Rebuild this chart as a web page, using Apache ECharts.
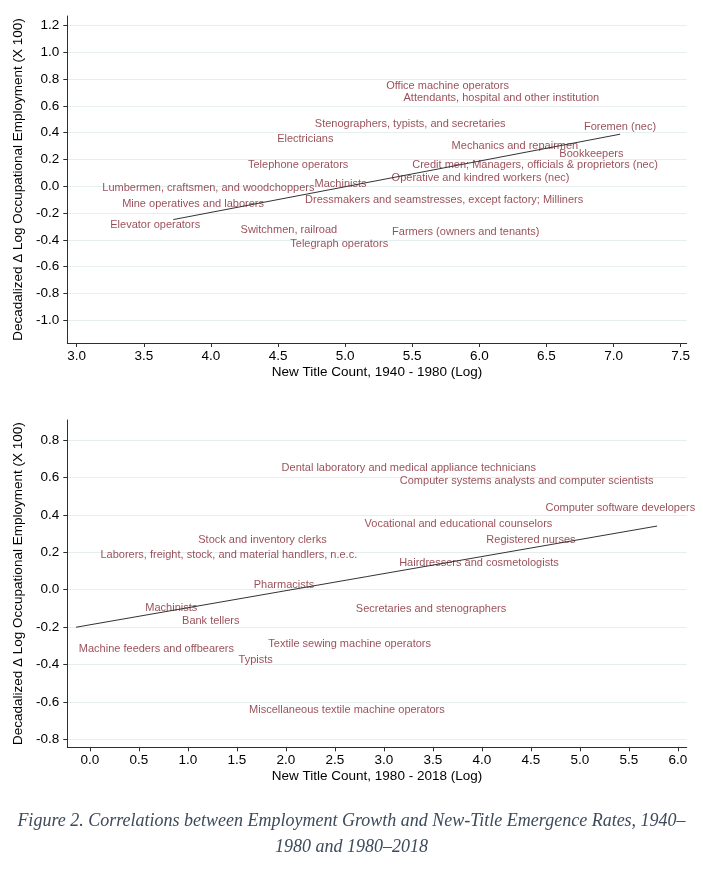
<!DOCTYPE html>
<html>
<head>
<meta charset="utf-8">
<script src="https://cdn.jsdelivr.net/npm/echarts@6/dist/echarts.min.js"></script>
<style>
html,body{margin:0;padding:0;background:#fff;}
#chart{width:703px;height:871px;}
</style>
</head>
<body>
<div id="chart"></div>
<script>
// ---- Panel 1: 1940-1980 ----
var topNames = [
  "Office machine operators",
  "Attendants, hospital and other institution",
  "Stenographers, typists, and secretaries",
  "Foremen (nec)",
  "Electricians",
  "Mechanics and repairmen",
  "Bookkeepers",
  "Telephone operators",
  "Credit men; Managers, officials & proprietors (nec)",
  "Operative and kindred workers (nec)",
  "Machinists",
  "Lumbermen, craftsmen, and woodchoppers",
  "Dressmakers and seamstresses, except factory; Milliners",
  "Mine operatives and laborers",
  "Elevator operators",
  "Switchmen, railroad",
  "Farmers (owners and tenants)",
  "Telegraph operators"
];
var topX = [5.763, 6.164, 5.485, 7.048, 4.703, 6.265, 6.835, 4.650, 6.415, 6.009, 4.966, 3.981, 5.738, 3.867, 3.585, 4.581, 5.899, 4.956];
var topY = [0.746, 0.657, 0.468, 0.443, 0.351, 0.299, 0.241, 0.162, 0.162, 0.060, 0.020, -0.010, -0.104, -0.134, -0.293, -0.323, -0.341, -0.433];
var topFitX = [3.72, 7.049];
var topFitY = [-0.249, 0.388];
var topXTicks = [3.0, 3.5, 4.0, 4.5, 5.0, 5.5, 6.0, 6.5, 7.0, 7.5];
var topYTicks = [-1.0, -0.8, -0.6, -0.4, -0.2, 0.0, 0.2, 0.4, 0.6, 0.8, 1.0, 1.2];

// ---- Panel 2: 1980-2018 ----
var botNames = [
  "Dental laboratory and medical appliance technicians",
  "Computer systems analysts and computer scientists",
  "Computer software developers",
  "Vocational and educational counselors",
  "Registered nurses",
  "Stock and inventory clerks",
  "Laborers, freight, stock, and material handlers, n.e.c.",
  "Hairdressers and cosmetologists",
  "Pharmacists",
  "Machinists",
  "Secretaries and stenographers",
  "Bank tellers",
  "Textile sewing machine operators",
  "Machine feeders and offbearers",
  "Typists",
  "Miscellaneous textile machine operators"
];
var botX = [3.254, 4.457, 5.413, 3.761, 4.501, 1.761, 1.418, 3.970, 1.981, 0.831, 3.481, 1.234, 2.651, 0.679, 1.692, 2.623];
var botY = [0.649, 0.579, 0.435, 0.351, 0.265, 0.264, 0.184, 0.141, 0.023, -0.098, -0.103, -0.168, -0.291, -0.319, -0.376, -0.643];
var botFitX = [-0.141, 5.788];
var botFitY = [-0.201, 0.340];
var botXTicks = [0.0, 0.5, 1.0, 1.5, 2.0, 2.5, 3.0, 3.5, 4.0, 4.5, 5.0, 5.5, 6.0];
var botYTicks = [-0.8, -0.6, -0.4, -0.2, 0.0, 0.2, 0.4, 0.6, 0.8];

var xTitles = ["New Title Count, 1940 - 1980 (Log)", "New Title Count, 1980 - 2018 (Log)"];
var yTitle = "Decadalized \u0394 Log Occupational Employment (X 100)";
var captionLines = [
  "Figure 2. Correlations between Employment Growth and New-Title Emergence Rates, 1940\u2013",
  "1980 and 1980\u20132018"
];

var FONT = "'Liberation Sans', Arial, Helvetica, sans-serif";
var LABEL_COLOR = "#7d1f2b";
var AXIS_COLOR = "#2e2e2e";
var GRID_COLOR = "#e6eef0";

function zipPts(names, xs, ys) {
  return names.map(function (n, i) { return { name: n, value: [xs[i], ys[i]] }; });
}
function fitPts(xs, ys) {
  return xs.map(function (x, i) { return [x, ys[i]]; });
}
function fmt(v) { return (Math.round(v * 10) / 10).toFixed(1); }

function xAxisCfg(gridIndex, min, max, ticks, title) {
  return {
    type: 'value', gridIndex: gridIndex, min: min, max: max,
    name: title, nameLocation: 'middle', nameGap: 22,
    nameTextStyle: { fontFamily: FONT, fontSize: 13.5, color: '#000' },
    axisLine: { show: true, onZero: false, lineStyle: { color: AXIS_COLOR, width: 1 } },
    axisTick: { show: true, inside: false, length: 4, customValues: ticks, lineStyle: { color: AXIS_COLOR } },
    axisLabel: { show: true, customValues: ticks, margin: 6, formatter: fmt, fontFamily: FONT, fontSize: 13.5, color: '#000' },
    splitLine: { show: false }
  };
}
function yAxisCfg(gridIndex, min, max, ticks) {
  return {
    type: 'value', gridIndex: gridIndex, min: min, max: max,
    name: yTitle, nameLocation: 'middle', nameGap: 37, nameRotate: 90,
    nameTextStyle: { fontFamily: FONT, fontSize: 13.5, color: '#000' },
    axisLine: { show: true, onZero: false, lineStyle: { color: AXIS_COLOR, width: 1 } },
    axisTick: { show: true, inside: false, length: 4, customValues: ticks, lineStyle: { color: AXIS_COLOR } },
    axisLabel: { show: true, customValues: ticks, margin: 8, formatter: fmt, fontFamily: FONT, fontSize: 13.5, color: '#000' },
    splitLine: { show: true, lineStyle: { color: GRID_COLOR, width: 1 } }
  };
}
function labelSeries(idx, data) {
  return {
    type: 'scatter', xAxisIndex: idx, yAxisIndex: idx, data: data,
    symbolSize: 0, z: 2, silent: true,
    itemStyle: { color: 'rgba(0,0,0,0)' },
    label: { show: true, position: 'inside', formatter: '{b}', color: LABEL_COLOR, fontFamily: FONT, fontSize: 11 },
    labelLayout: { hideOverlap: false }
  };
}
function fitSeries(idx, data) {
  return {
    type: 'line', xAxisIndex: idx, yAxisIndex: idx, data: data,
    showSymbol: false, symbol: 'none', z: 5, silent: true,
    lineStyle: { color: '#333', width: 1 }
  };
}

var chart = echarts.init(document.getElementById('chart'), null, { renderer: 'canvas' });
chart.setOption({
  backgroundColor: '#fff',
  animation: false,
  grid: [
    { left: 67.3, top: 16, width: 619.4, height: 327 },
    { left: 67.3, top: 420, width: 619.4, height: 327.3 }
  ],
  xAxis: [
    xAxisCfg(0, 2.93, 7.545, topXTicks, xTitles[0]),
    xAxisCfg(1, -0.23, 6.09, botXTicks, xTitles[1])
  ],
  yAxis: [
    yAxisCfg(0, -1.17, 1.27, topYTicks),
    yAxisCfg(1, -0.843, 0.907, botYTicks)
  ],
  series: [
    labelSeries(0, zipPts(topNames, topX, topY)),
    fitSeries(0, fitPts(topFitX, topFitY)),
    labelSeries(1, zipPts(botNames, botX, botY)),
    fitSeries(1, fitPts(botFitX, botFitY))
  ],
  graphic: [
    { type: 'text', left: 'center', top: 812, silent: true,
      style: { text: captionLines[0], font: "italic 18px 'Liberation Serif', 'Times New Roman', serif", fill: '#3d4a5c', textAlign: 'center' } },
    { type: 'text', left: 'center', top: 838, silent: true,
      style: { text: captionLines[1], font: "italic 18px 'Liberation Serif', 'Times New Roman', serif", fill: '#3d4a5c', textAlign: 'center' } }
  ]
});
</script>
</body>
</html>
